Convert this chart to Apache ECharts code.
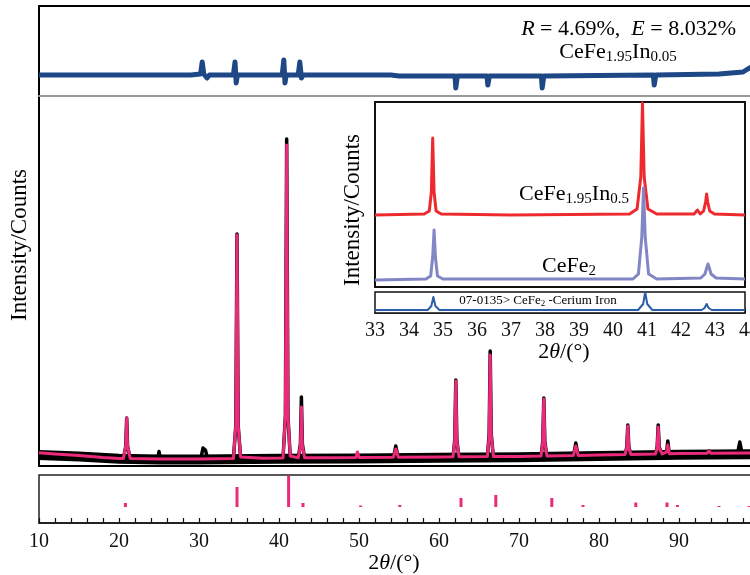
<!DOCTYPE html>
<html>
<head>
<meta charset="utf-8">
<script src="https://cdn.jsdelivr.net/npm/echarts@6/dist/echarts.min.js"></script>
<style>
html, body { margin: 0; padding: 0; background: #fff; }
#chart { width: 750px; height: 575px; }
</style>
</head>
<body>
<div id="chart"></div>
<script>
// main pattern, 2theta (deg) vs counts
var calcPattern = [
	[10,133],[12,120],[15,105],[18,85],[20,76],
	[20.55,76],[20.85,200],[20.96,480],[21.07,200],[21.4,76],
	[25,70],[30,70],[34.3,74],[34.6,400],[34.75,2310],[34.9,400],[35.2,90],
	[38,78],[40.5,80],[40.8,500],[40.96,3210],[41.12,500],[41.4,100],
	[42.4,82],[42.68,200],[42.8,590],[42.92,200],[43.2,82],
	[46,83],[49.6,84],[49.8,140],[50,85],[54.3,88],[54.6,170],[54.9,88],
	[60,90],[61.75,92],[61.97,250],[62.1,850],[62.23,250],[62.5,92],
	[66.05,94],[66.27,300],[66.4,1110],[66.53,300],[66.8,95],
	[70,96],[72.75,100],[72.97,230],[73.1,670],[73.23,230],[73.5,100],
	[76.8,105],[77.1,200],[77.4,106],[80,110],
	[83.25,115],[83.47,180],[83.6,400],[83.73,180],[84,116],
	[87.05,120],[87.27,180],[87.4,390],[87.53,180],[87.9,120],
	[88.45,140],[88.6,210],[88.8,122],
	[90,125],[93.5,127],[93.75,150],[94,127],[100,130]
];
var obsPattern = [
	[10,120],[15,95],[20,72],[20.55,72],[20.85,200],[20.96,480],[21.07,200],[21.4,70],
	[24.8,65],[25,145],[25.2,65],[30.2,65],[30.5,180],[30.6,200],[30.8,160],[31.1,65],
	[34.3,70],[34.6,400],[34.75,2320],[34.9,400],[35.2,85],
	[40.5,75],[40.8,500],[40.96,3270],[41.12,500],[41.4,95],
	[42.4,78],[42.68,220],[42.8,690],[42.92,220],[43.2,78],
	[54.3,80],[54.6,200],[54.9,80],
	[61.75,84],[61.97,260],[62.1,860],[62.23,260],[62.5,85],
	[66.05,86],[66.27,320],[66.4,1150],[66.53,320],[66.8,86],
	[72.75,92],[72.97,240],[73.1,680],[73.23,240],[73.5,92],
	[76.8,98],[77.1,230],[77.4,98],
	[83.25,105],[83.47,190],[83.6,410],[83.73,190],[84,105],
	[87.05,110],[87.27,190],[87.4,410],[87.53,190],[87.9,112],
	[88.45,140],[88.6,250],[88.8,112],
	[93.5,118],[93.75,150],[94,118],[97.3,120],[97.6,240],[97.9,120],[100,120]
];
// noise band of the observed data
var obsBand = [
	[10,110],[15,95],[20,72],[25,65],[30,65],[40,72],[50,76],[60,82],[70,88],[80,100],[90,112],[100,118]
];
// difference curve (top panel)
var diffPattern = [
	[10,21],[20,21],[29,21],[30.2,22],[30.4,34],[30.6,22],[31,18],[31.3,21],
	[34.3,21],[34.5,34],[34.65,13],[34.8,21],[40.4,21],[40.6,36],[40.75,13],[40.9,21],
	[42.4,21],[42.6,34],[42.8,18],[43,21],[54,21],[55,20],[62,20],[62.1,8],[62.3,20],
	[66,20],[66.1,11],[66.3,20],[72.8,20],[72.9,8],[73.1,20],[86.8,21],[86.9,11],[87.1,21],
	[95,22],[98,24],[99,29],[100,24]
];
// Bragg positions and tick heights
var braggPos = [20.8, 34.75, 41.2, 43.0, 50.2, 55.1, 62.75, 67.1, 74.1, 78.0, 84.6, 88.5, 89.8, 95.0, 98.75];
var braggH = [4, 20, 31, 4, 1.5, 2, 9, 12, 9, 2, 4.5, 4.5, 2, 1, 1];

// inset: 33-44 deg
var insetDoped = [
	[33,72],[34.45,73],[34.6,76],[34.66,95],[34.7,149],[34.74,95],[34.8,76],[34.95,73],
	[37,72],[40.5,73],[40.72,78],[40.83,110],[40.88,184],[40.93,110],[41.04,78],[41.3,73],
	[42.4,73],[42.5,77],[42.58,73],[42.68,76],[42.74,85],[42.77,93],[42.8,85],[42.86,76],[43,73],[43.9,72]
];
var insetPure = [
	[33,7],[34.5,8],[34.64,11],[34.7,30],[34.74,57],[34.78,30],[34.84,11],[35,8],
	[40.6,8],[40.76,13],[40.86,50],[40.91,99],[40.96,50],[41.06,13],[41.3,8],
	[42.6,9],[42.72,13],[42.78,20],[42.81,23],[42.84,20],[42.9,13],[43.05,9],[43.9,8]
];
var pdfCard = [
	[33,3],[34.55,3],[34.66,7],[34.72,16],[34.78,7],[34.9,3],[40.75,3],[40.9,9],[40.96,21],
	[41.02,9],[41.17,3],[42.62,3],[42.71,5],[42.77,9],[42.83,5],[42.92,3],[43.9,3]
];

var FONT = 'Liberation Serif';
var PINK = '#ec2a7a';

function hide(o) {
	o.axisLabel = o.axisLabel || {show: false};
	o.axisTick = o.axisTick || {show: false};
	o.splitLine = {show: false};
	return o;
}
function rich(base) {
	return {
		n: {fontFamily: FONT, fontSize: base, color: '#111'},
		i: {fontFamily: FONT, fontSize: base, fontStyle: 'italic', color: '#111'},
		s: {fontFamily: FONT, fontSize: Math.round(base * 0.7), color: '#111', padding: [10, 0, 0, 0]}
	};
}
function label(x, y, text, size, align, rot) {
	return {
		type: 'text', x: x, y: y, rotation: rot || 0, z: 100,
		style: {text: text, align: align || 'center', verticalAlign: 'middle', rich: rich(size)}
	};
}
function grid(o) {
	o.outerBoundsMode = 'none';
	o.containLabel = false;
	return o;
}

var option = {
	animation: false,
	backgroundColor: '#fff',
	grid: [
		grid({left: 39, top: 6, width: 720, height: 90}),
		grid({left: 39, top: 96, width: 720, height: 370}),
		grid({left: 39, top: 475, width: 720, height: 48, show: true, borderColor: '#222', borderWidth: 1.5}),
		grid({left: 375, top: 102, width: 370, height: 185, show: true, backgroundColor: '#fff', borderColor: '#111', borderWidth: 2, z: 5}),
		grid({left: 375, top: 292, width: 370, height: 21, show: true, backgroundColor: '#fff', borderColor: '#111', borderWidth: 1.5, z: 5}),
		grid({left: 375, top: 313, width: 374, height: 1})
	],
	xAxis: [
		hide({type: 'value', gridIndex: 0, position: 'top', min: 10, max: 100, axisLine: {onZero: false, lineStyle: {color: '#000', width: 2}}}),
		hide({type: 'value', gridIndex: 1, position: 'bottom', min: 10, max: 100, axisLine: {onZero: false, lineStyle: {color: '#000', width: 2}}}),
		hide({type: 'value', gridIndex: 1, position: 'top', min: 10, max: 100, axisLine: {onZero: false, lineStyle: {color: '#999', width: 2}}}),
		{type: 'value', gridIndex: 2, position: 'bottom', min: 10, max: 100, interval: 10,
			axisLine: {onZero: false, lineStyle: {color: '#111', width: 1.5}},
			axisTick: {inside: true, length: 5, lineStyle: {color: '#111', width: 1.2}},
			minorTick: {show: true, splitNumber: 5, length: 5, lineStyle: {color: '#111', width: 1.2}},
			axisLabel: {fontFamily: FONT, fontSize: 20, color: '#111', margin: 9, showMaxLabel: false},
			splitLine: {show: false}},
		hide({type: 'value', gridIndex: 3, min: 33, max: 43.9, axisLine: {show: false}}),
		{type: 'value', gridIndex: 4, min: 33, max: 43.9, interval: 0.5,
			axisLine: {onZero: false, lineStyle: {color: '#111', width: 1.5}},
			axisTick: {inside: true, length: 4, lineStyle: {color: '#111', width: 1}},
			axisLabel: {show: false}, splitLine: {show: false}},
		{type: 'value', gridIndex: 5, min: 33, max: 44, interval: 1,
			axisLine: {show: false}, axisTick: {show: false}, splitLine: {show: false},
			axisLabel: {fontFamily: FONT, fontSize: 20, color: '#111', margin: 7, showMinLabel: true, showMaxLabel: true}}
	],
	yAxis: [
		hide({type: 'value', gridIndex: 0, min: 0, max: 90, axisLine: {show: true, onZero: false, lineStyle: {color: '#000', width: 2}}}),
		hide({type: 'value', gridIndex: 1, min: 0, max: 3700, axisLine: {show: true, onZero: false, lineStyle: {color: '#000', width: 2}}}),
		hide({type: 'value', gridIndex: 2, min: -16, max: 32, axisLine: {show: false}}),
		hide({type: 'value', gridIndex: 3, min: 0, max: 185, axisLine: {show: false}}),
		hide({type: 'value', gridIndex: 4, min: 0, max: 21, axisLine: {show: false}}),
		hide({type: 'value', gridIndex: 5, min: 0, max: 1, axisLine: {show: false}})
	],
	series: [
		{name: 'difference', type: 'line', xAxisIndex: 0, yAxisIndex: 0, data: diffPattern, showSymbol: false,
			lineStyle: {color: '#1d4785', width: 5, join: 'round'}},
		{name: 'obs noise', type: 'line', xAxisIndex: 1, yAxisIndex: 1, data: obsBand, showSymbol: false,
			lineStyle: {color: '#000', width: 10, join: 'round'}},
		{name: 'observed', type: 'line', xAxisIndex: 1, yAxisIndex: 1, data: obsPattern, showSymbol: false,
			lineStyle: {color: '#000', width: 3.5, join: 'round'}},
		{name: 'calculated', type: 'line', xAxisIndex: 1, yAxisIndex: 1, data: calcPattern, showSymbol: false,
			lineStyle: {color: PINK, width: 3, join: 'round'}},
		{name: 'bragg', type: 'bar', xAxisIndex: 3, yAxisIndex: 2, barWidth: 3,
			data: braggPos.map(function (p, i) { return [p, braggH[i]]; }),
			itemStyle: {color: PINK}},
		{name: 'CeFe1.95In0.5', type: 'line', xAxisIndex: 4, yAxisIndex: 3, data: insetDoped, showSymbol: false, z: 10,
			lineStyle: {color: '#ee2a2e', width: 3, join: 'round'}},
		{name: 'CeFe2', type: 'line', xAxisIndex: 4, yAxisIndex: 3, data: insetPure, showSymbol: false, z: 11,
			lineStyle: {color: '#8286c4', width: 3, join: 'round'}},
		{name: 'PDF 07-0135', type: 'line', xAxisIndex: 5, yAxisIndex: 4, data: pdfCard, showSymbol: false, z: 10,
			lineStyle: {color: '#2c5da8', width: 2, join: 'round'}}
	],
	graphic: [
		label(736, 29, '{i|R}{n| = 4.69%,  }{i|E}{n| = 8.032%}', 22, 'right'),
		label(618, 52, '{n|CeFe}{s|1.95}{n|In}{s|0.05}', 22),
		label(20, 245, '{n|Intensity/Counts}', 23, 'center', Math.PI / 2),
		label(394, 563, '{n|2}{i|θ}{n|/(°)}', 22),
		label(353, 210, '{n|Intensity/Counts}', 23, 'center', Math.PI / 2),
		label(564, 352, '{n|2}{i|θ}{n|/(°)}', 22),
		label(574, 194, '{n|CeFe}{s|1.95}{n|In}{s|0.5}', 22),
		label(569, 266, '{n|CeFe}{s|2}', 22),
		{type: 'text', x: 538, y: 301, z: 100,
			style: {text: '{b|07-0135> CeFe}{bs|2}{b| -Cerium Iron}', align: 'center', verticalAlign: 'middle',
				rich: {
					b: {fontFamily: FONT, fontSize: 13, color: '#2c5da8'},
					bs: {fontFamily: FONT, fontSize: 9, color: '#2c5da8', padding: [6, 0, 0, 0]}
				}}}
	]
};

echarts.init(document.getElementById('chart')).setOption(option);
</script>
</body>
</html>
